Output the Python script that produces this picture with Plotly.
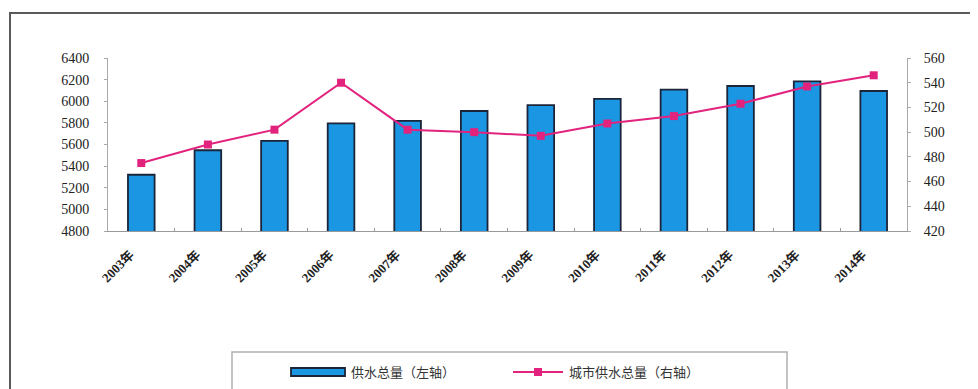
import plotly.graph_objects as go

years = ["2003年", "2004年", "2005年", "2006年", "2007年", "2008年",
         "2009年", "2010年", "2011年", "2012年", "2013年", "2014年"]
total_supply = [5320, 5547, 5633, 5795, 5819, 5910, 5965, 6022, 6107, 6141, 6183, 6095]
urban_supply = [475, 490, 502, 540, 502, 500, 497, 507, 513, 523, 537, 546]

left_ticks = [4800, 5000, 5200, 5400, 5600, 5800, 6000, 6200, 6400]
right_ticks = [420, 440, 460, 480, 500, 520, 540, 560]

bar_name = "供水总量（左轴）"
line_name = "城市供水总量（右轴）"

# page body has an 8px margin, so the figure is sized/offset accordingly
OFF = 8
W, H = 978 - OFF, 389 - OFF
L, R, T, B = 100, 71, 50, 158
pw, ph = W - L - R, H - T - B

def px(x):  # screen x -> paper
    return (x - OFF - L) / pw

def py(y):  # screen y -> paper
    return (H - B - (y - OFF)) / ph

font_main = "Liberation Serif, Noto Sans CJK SC, serif"
BAR_COLOR = "#1a96e2"
BAR_EDGE = "#1b2438"
LINE_COLOR = "#e2237e"

fig = go.Figure()
fig.add_trace(go.Bar(
    x=years, y=total_supply, name=bar_name,
    marker=dict(color=BAR_COLOR, line=dict(color=BAR_EDGE, width=1.8)),
    yaxis="y", showlegend=False,
))
fig.add_trace(go.Scatter(
    x=years, y=urban_supply, name=line_name,
    mode="lines+markers",
    line=dict(color=LINE_COLOR, width=2),
    marker=dict(symbol="square", size=8, color=LINE_COLOR),
    yaxis="y2", showlegend=False,
))

LEG_Y = 372
shapes = [
    # outer frame
    dict(type="rect", xref="paper", yref="paper",
         x0=px(10), x1=px(1000), y0=py(430), y1=py(13),
         line=dict(color="#5a5a5a", width=2), layer="below"),
    # legend box
    dict(type="rect", xref="paper", yref="paper",
         x0=px(232), x1=px(787), y0=py(430), y1=py(352),
         line=dict(color="#b0b0b0", width=1.5), layer="below"),
    # legend swatch: bar
    dict(type="rect", xref="paper", yref="paper",
         x0=px(291), x1=px(345), y0=py(LEG_Y + 4), y1=py(LEG_Y - 4),
         fillcolor=BAR_COLOR, line=dict(color=BAR_EDGE, width=1.8)),
    # legend swatch: line
    dict(type="line", xref="paper", yref="paper",
         x0=px(513), x1=px(563), y0=py(LEG_Y), y1=py(LEG_Y),
         line=dict(color=LINE_COLOR, width=2)),
    dict(type="rect", xref="paper", yref="paper",
         x0=px(534), x1=px(542), y0=py(LEG_Y + 4), y1=py(LEG_Y - 4),
         fillcolor=LINE_COLOR, line=dict(color=LINE_COLOR, width=0)),
]

annotations = [
    dict(text=bar_name, xref="paper", yref="paper", x=px(349), y=py(LEG_Y),
         xanchor="left", yanchor="middle", showarrow=False,
         font=dict(size=13, color="#333333")),
    dict(text=line_name, xref="paper", yref="paper", x=px(567), y=py(LEG_Y),
         xanchor="left", yanchor="middle", showarrow=False,
         font=dict(size=13, color="#333333")),
]

fig.update_layout(
    width=W, height=H,
    margin=dict(l=L, r=R, t=T, b=B, pad=0),
    paper_bgcolor="white", plot_bgcolor="white",
    bargap=0.6,
    font=dict(family=font_main, size=12, color="#222222"),
    xaxis=dict(
        type="category", range=[-0.5, len(years) - 0.5], autorange=False,
        tickangle=-45, showgrid=False,
        showline=True, linecolor="#999999", linewidth=1,
        ticks="inside", ticklen=3, tickcolor="#999999", tickson="boundaries",
        ticklabelstandoff=10, ticklabelshift=-11,
        tickfont=dict(size=13, color="#222222", weight="bold"),
    ),
    yaxis=dict(
        range=[4800, 6400], tickvals=left_ticks, showgrid=False,
        showline=True, linecolor="#aaaaaa", linewidth=1,
        ticks="outside", ticklen=3, tickcolor="#aaaaaa",
        ticklabelstandoff=12, zeroline=False,
        tickfont=dict(size=14, color="#222222"),
    ),
    yaxis2=dict(
        range=[420, 560], tickvals=right_ticks, overlaying="y", side="right",
        showgrid=False, showline=True, linecolor="#aaaaaa", linewidth=1,
        ticks="outside", ticklen=3, tickcolor="#aaaaaa",
        ticklabelstandoff=10, zeroline=False,
        tickfont=dict(size=14, color="#222222"),
    ),
    showlegend=False,
    shapes=shapes,
    annotations=annotations,
)

fig.write_html("out.html")
